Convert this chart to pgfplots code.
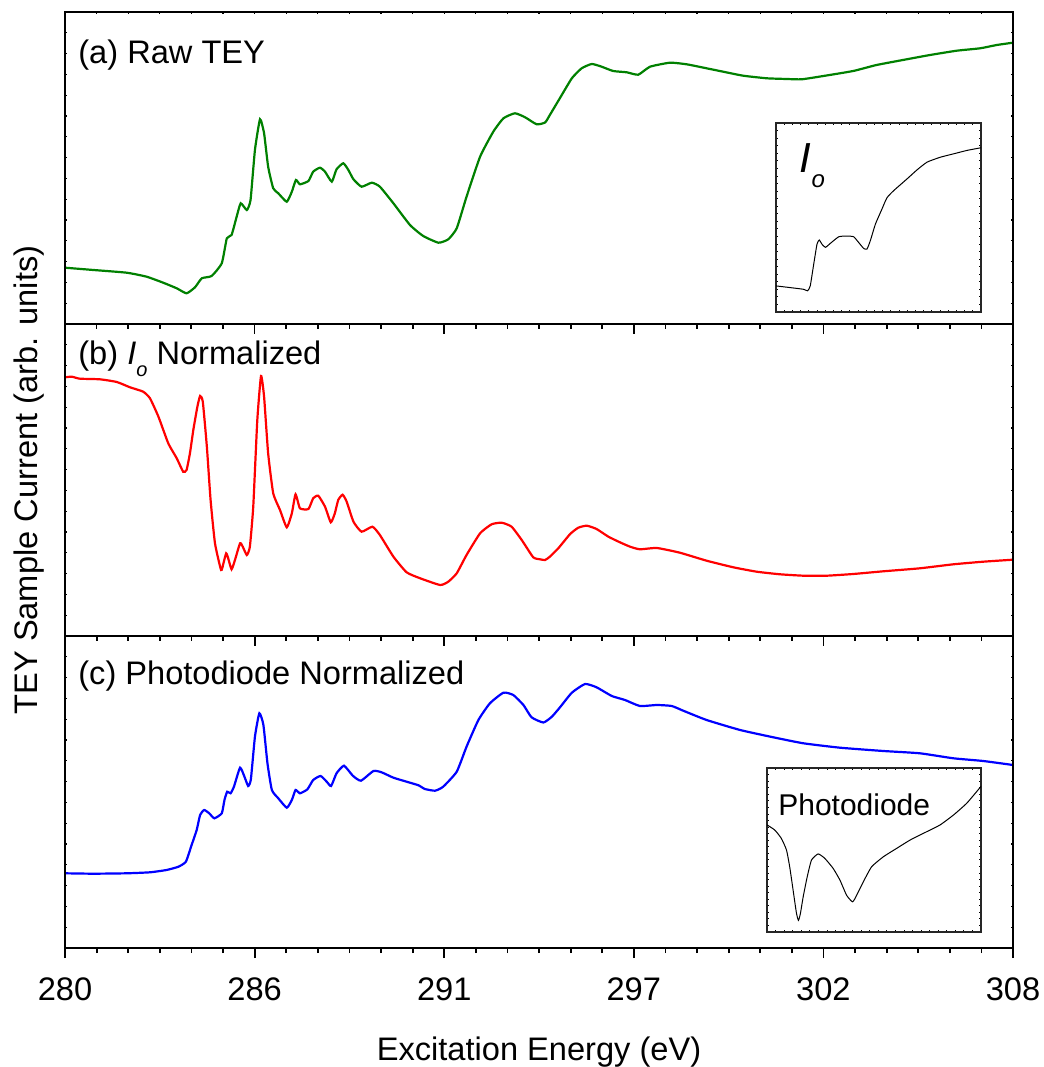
\documentclass[border=0pt]{standalone}
\usepackage{pgfplots}
\pgfplotsset{compat=1.18}
\usepackage{fontspec}
\setmainfont{Liberation Sans}
\definecolor{cgreen}{RGB}{0,128,0}
\newcommand{\lab}{\fontsize{16.3}{19.5}\selectfont}
\pgfplotsset{
 base/.style={width=474pt,height=156pt,scale only axis,xmin=280,xmax=308,ymin=0,ymax=312,
   axis line style={line width=0.9pt},/pgf/number format/assume math mode=true},
 mainp/.style={base,xtick={280,285.6,291.2,296.8,302.4,308},minor x tick num=5,xtick pos=bottom,
   tick align=outside,ytick=\empty,major tick length=5pt,minor tick length=2.5pt,
   xtick style={black,line width=0.9pt},xticklabels={}},
 overp/.style={base,ytick={0,20.8,...,311},yticklabels={},ytick pos=both,tick align=inside,
   major tick length=1.2pt,ytick style={black,line width=0.6pt},xtick=\empty},
 inset/.style={scale only axis,xmin=0,xmax=100,ymin=0,ymax=100,xtick={0,4,...,100},ytick={0,4,...,100},
   xticklabels={},yticklabels={},tick align=inside,xtick pos=both,ytick pos=both,major tick length=1.2pt,
   tick style={black,line width=0.4pt},axis line style={line width=0.6pt,black!85},
   axis background/.style={fill=white}},
}
\begin{document}
\begin{tikzpicture}
\path[use as bounding box] (-32.5pt,-59.5pt) rectangle (489.5pt,474pt);
% ---------- panel (a)
\begin{axis}[mainp,at={(0pt,312pt)},anchor=south west]
\addplot[cgreen,line width=1.1pt,smooth,tension=0.3] coordinates {
(280.00,56.3)(280.84,54)(281.82,51.3)(282.41,47.3)(282.90,41.3)(283.30,35.7)(283.59,30.7)(283.84,36.7)(284.04,45.7)(284.33,48)(284.63,60.7)(284.78,85.7)(284.92,89)(285.07,107.3)(285.19,120.7)(285.37,114)(285.48,124)(285.61,174)(285.76,204.7)(285.88,190.7)(286.00,157.3)(286.15,135.7)(286.30,130.7)(286.55,122.3)(286.70,132.3)(286.82,144)(286.94,139.7)(287.19,143)(287.33,152.3)(287.53,156.3)(287.68,152.3)(287.88,142.3)(288.02,154.7)(288.22,160.7)(288.37,154)(288.52,144.7)(288.76,137.3)(289.06,141.3)(289.30,137.3)(289.70,120.7)(290.19,99)(290.58,88)(291.03,81.3)(291.32,84.7)(291.57,95.7)(291.86,127.3)(292.26,167.3)(292.65,192.3)(292.95,205.7)(293.29,210.7)(293.59,206.7)(293.93,199.7)(294.18,201.5)(294.32,209)(294.62,226)(294.97,245.7)(295.26,255.7)(295.56,260)(295.85,257.3)(296.19,253)(296.59,251.7)(296.93,249.3)(297.28,257.3)(297.87,261.3)(298.36,259.7)(298.95,255.7)(299.44,252.3)(300.03,248.3)(300.73,245.7)(301.32,245)(301.76,244.7)(302.40,248)(303.28,253)(303.97,259)(304.86,264.7)(305.55,269)(306.34,273.3)(307.03,275.7)(307.52,279)(308.00,281.3)};
\node[anchor=base west,inner sep=0pt,font=\lab] at (axis description cs:0.0137,0.8365) {(a) Raw TEY};
\end{axis}
\begin{axis}[overp,at={(0pt,312pt)},anchor=south west,xtick={280,280.9333,...,308},xticklabels={},xtick pos=top,xtick style={black,line width=0.6pt}]
\end{axis}
% ---------- panel (b)
\begin{axis}[mainp,at={(0pt,156pt)},anchor=south west,
  ylabel={TEY Sample Current (arb. units)},
  ylabel style={at={(axis description cs:-0.038,0.5)},anchor=center,font=\lab}]
\addplot[red,line width=1.1pt,smooth,tension=0.3] coordinates {
(280.00,258.7)(280.20,259.3)(280.44,257.3)(281.03,256.7)(281.53,254)(281.92,248.7)(282.31,244.3)(282.51,237.7)(282.76,219.3)(283.05,192.7)(283.30,177.7)(283.49,164.3)(283.59,166)(283.69,182.7)(283.79,206)(283.91,229.3)(283.99,240)(284.07,234.3)(284.19,189.3)(284.30,136)(284.43,92.7)(284.61,66)(284.68,72.7)(284.76,82.7)(284.82,77.7)(284.92,66.7)(285.02,76)(285.17,92.7)(285.25,89.3)(285.37,81)(285.46,89.3)(285.56,129.3)(285.68,216)(285.79,260)(285.88,239.3)(286.00,182.7)(286.15,142.7)(286.35,126)(286.55,108.7)(286.70,122.7)(286.81,141.7)(286.94,127.7)(287.19,127)(287.33,137.7)(287.48,140.3)(287.68,129.3)(287.85,113.7)(287.97,122.7)(288.07,136)(288.20,141.3)(288.32,134.3)(288.52,114.3)(288.76,104.3)(289.08,109.3)(289.30,101)(289.70,79.3)(290.09,63.7)(290.49,57.7)(291.08,51)(291.32,54.3)(291.57,62.7)(291.86,81)(292.26,102.7)(292.60,111.7)(292.90,113.3)(293.19,109.3)(293.49,96)(293.83,78.7)(294.03,76.7)(294.18,76)(294.32,79.3)(294.57,87.7)(294.92,102)(295.16,108.3)(295.41,110.3)(295.70,107)(296.05,99.3)(296.39,93.7)(296.69,89.3)(296.98,86.7)(297.48,88)(298.16,83.3)(298.95,75.3)(299.74,68.7)(300.43,64.3)(301.12,61.7)(301.81,60.3)(302.50,60.3)(303.28,62)(304.17,64.7)(305.25,67.7)(306.24,71.7)(307.12,74.3)(308.00,76.3)};
\node[anchor=base west,inner sep=0pt,font=\lab] at (axis description cs:0.0137,0.8686) {(b) \textit{I}\raisebox{-6pt}{\fontsize{10}{10}\selectfont\textit{o}} Normalized};
\end{axis}
\begin{axis}[overp,at={(0pt,156pt)},anchor=south west]
\end{axis}
% ---------- panel (c)
\begin{axis}[mainp,at={(0pt,0pt)},anchor=south west,
  xticklabels={280,286,291,297,302,308},
  xticklabel style={font=\lab,anchor=base,yshift=-21.5pt,inner sep=0pt},
  xlabel={Excitation Energy (eV)},
  xlabel style={at={(axis description cs:0.5,-0.359)},anchor=base,font=\lab,inner sep=0pt}]
\addplot[blue,line width=1.1pt,smooth,tension=0.3] coordinates {
(280.00,74.7)(280.84,74.3)(281.82,74.7)(282.51,75.7)(283.00,78)(283.35,81.3)(283.57,86.3)(283.74,103)(283.89,118)(283.99,133)(284.11,138)(284.26,134.7)(284.41,129.7)(284.63,134.7)(284.71,148)(284.79,156.3)(284.89,154.7)(284.99,161.3)(285.17,180.3)(285.30,171.3)(285.41,162)(285.49,168.7)(285.61,211.3)(285.74,234.7)(285.86,223)(285.98,184.7)(286.11,158)(286.30,149.7)(286.55,140.3)(286.70,148)(286.81,158)(286.94,154.7)(287.16,158.7)(287.33,168)(287.55,172)(287.73,166.3)(287.86,162)(288.02,174.7)(288.24,182.3)(288.50,172.3)(288.74,167.3)(289.11,177)(289.35,175.7)(289.70,170.3)(290.09,166.3)(290.44,162.7)(290.63,159)(290.93,157.3)(291.17,161.3)(291.57,176.3)(291.86,201.3)(292.21,228)(292.55,244.7)(292.95,255.3)(293.24,253)(293.54,243)(293.78,230.7)(294.13,225.5)(294.38,231.3)(294.62,240.7)(294.97,255.3)(295.36,264)(295.70,260.7)(296.15,252)(296.54,248)(296.98,242)(297.48,243)(297.92,242)(298.26,237.3)(298.95,228)(299.94,218)(300.92,210.7)(301.81,204.7)(302.89,200.3)(304.17,197)(305.25,194.7)(306.24,189.7)(307.12,187)(308.00,183)};
\node[anchor=base west,inner sep=0pt,font=\lab] at (axis description cs:0.0137,0.843) {(c) Photodiode Normalized};
\end{axis}
\begin{axis}[overp,at={(0pt,0pt)},anchor=south west]
\end{axis}
% ---------- inset Io
\begin{axis}[inset,at={(355.5pt,318pt)},anchor=south west,width=102.5pt,height=94.5pt]
\addplot[black,line width=0.5pt,smooth,tension=0.3] coordinates {
(0,13.8)(7,12.9)(13.5,12.0)(15.4,11.2)(16.7,13.8)(18.4,25.3)(20,35.9)(21.1,38.1)(22.4,35.9)(24.1,34.2)(26.5,36.3)(30.6,39.8)(34.6,40.2)(37.9,39.8)(40.3,36.8)(42.8,33.6)(44.4,33.3)(46,37.7)(48.5,46.5)(51.7,54.5)(54.1,60.4)(57.4,64.2)(63.9,70.4)(68.8,75.2)(73.7,79.3)(80.2,81.9)(86.7,83.7)(93.2,85.5)(100,86.9)};
\node[anchor=base west,inner sep=0pt] at (axis cs:11.5,74) {\fontsize{21}{21}\selectfont\textit{I}\raisebox{-7.5pt}{\fontsize{12}{12}\selectfont\textit{o}}};
\end{axis}
% ---------- inset photodiode
\begin{axis}[inset,at={(351pt,8pt)},anchor=south west,width=107pt,height=82pt]
\addplot[black,line width=0.5pt,smooth,tension=0.3] coordinates {
(0,65.3)(3.6,62.2)(6.7,57.1)(9.1,50)(10.6,39.8)(12.2,25.5)(13.8,11.2)(14.7,7.1)(15.6,11.2)(16.9,21.4)(18.8,33.7)(20.8,43.9)(23.9,47.6)(27.0,44.9)(30.9,38.8)(34.1,31.6)(37.2,22.4)(40,18.4)(41.9,22.4)(45,30.6)(48.9,39.8)(54.4,45.9)(60.6,51)(66.9,56.1)(74.7,61.2)(80.9,65.3)(87.2,71.4)(93.4,78.6)(100,88.8)};
\node[anchor=base west,inner sep=0pt] at (axis cs:5.1,71.3) {\fontsize{15}{15}\selectfont Photodiode};
\end{axis}
\end{tikzpicture}
\end{document}
